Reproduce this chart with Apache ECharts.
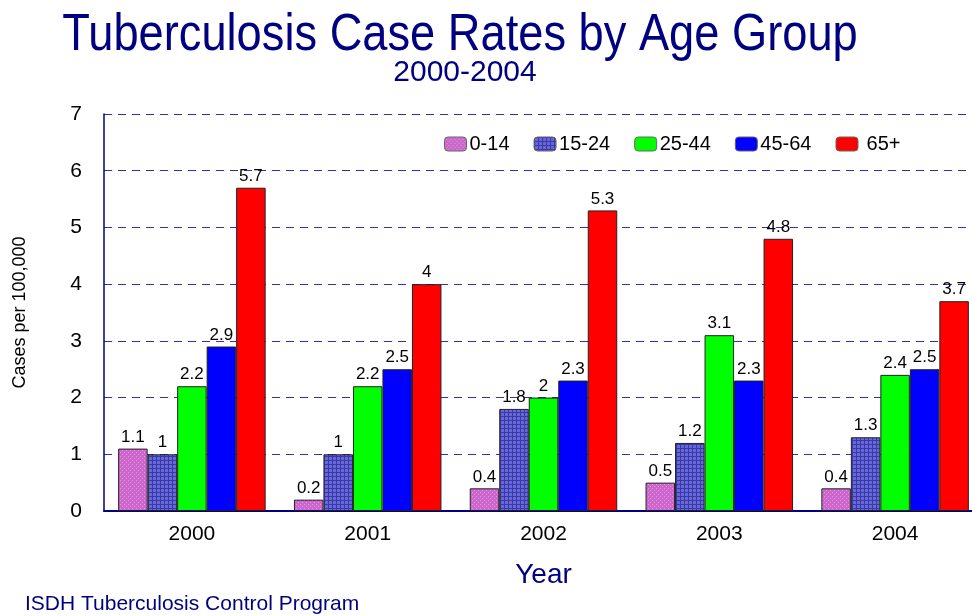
<!DOCTYPE html>
<html><head><meta charset="utf-8">
<script src="https://cdn.jsdelivr.net/npm/echarts@6/dist/echarts.min.js"></script>
<style>html,body{margin:0;padding:0;background:#fff}#c{width:972px;height:616px}</style>
</head><body><div id="c"></div>
<script>
const years = ['2000','2001','2002','2003','2004'];
const seriesNames = ['0-14','15-24','25-44','45-64','65+'];
const age0_14 = [1.1, 0.2, 0.4, 0.5, 0.4];
const age15_24 = [1.0, 1.0, 1.8, 1.2, 1.3];
const age25_44 = [2.2, 2.2, 2.0, 3.1, 2.4];
const age45_64 = [2.9, 2.5, 2.3, 2.3, 2.5];
const age65p = [5.7, 4.0, 5.3, 4.8, 3.7];
const yTicks = [0,1,2,3,4,5,6,7];

function pattern(bg, fg, kind){
  const c = document.createElement('canvas'); c.width = 4; c.height = 4;
  const g = c.getContext('2d');
  g.fillStyle = bg; g.fillRect(0,0,4,4);
  g.fillStyle = fg;
  if(kind==='dot'){ g.fillRect(0,0,1,1); g.fillRect(2,2,1,1); }
  else { g.fillRect(0,0,4,1); g.fillRect(0,0,1,4); }
  return {image: c, repeat: 'repeat'};
}
const fills = [
  pattern('#cc66cc','#e39be3','dot'),
  pattern('#6666dd','#3a3aa0','grid'),
  '#00ff00','#0000ff','#ff0000'
];
const dataSets = [age0_14, age15_24, age25_44, age45_64, age65p];
const FF = 'Liberation Sans, Arial, sans-serif';

const chart = echarts.init(document.getElementById('c'));
chart.setOption({
  animation:false,
  backgroundColor:'#fff',
  textStyle:{fontFamily:FF},
  title:[
    {text:'ISDH Tuberculosis Control Program', left:20, top:589,
     textStyle:{fontSize:21, fontWeight:'normal', color:'#000080', fontFamily:FF}}
  ],
  graphic:[
    {type:'text', x:460, y:36, scaleX:0.87, scaleY:1,
     style:{text:'Tuberculosis Case Rates by Age Group', font:'52px '+FF, fill:'#000080',
            textAlign:'center', textVerticalAlign:'middle'}},
    {type:'text', x:465, y:73,
     style:{text:'2000-2004', font:'30px '+FF, fill:'#000080',
            textAlign:'center', textVerticalAlign:'middle'}}
  ],
  legend:{
    data: seriesNames, left:439, top:129, itemWidth:22, itemHeight:14, itemGap:24,
    formatter: n => n==='65+' ? ' 65+' : n,
    textStyle:{fontSize:20, color:'#000', fontFamily:FF, padding:[0,0,0,-2]},
    itemStyle:{borderColor:'#666', borderWidth:1}
  },
  grid:{left:104, top:114, width:879, height:397, outerBoundsMode:'none', containLabel:false},
  xAxis:{
    type:'category', data: years,
    name:'Year', nameLocation:'middle', nameGap:50,
    nameTextStyle:{fontSize:28, color:'#000080', fontFamily:FF},
    axisLine:{lineStyle:{color:'#000080', width:2}},
    axisTick:{show:false},
    axisLabel:{fontSize:21, color:'#000', margin:13}
  },
  yAxis:{
    type:'value', min:0, max:7, interval:1,
    name:'Cases per 100,000', nameLocation:'middle', nameGap:75, nameRotate:90,
    nameTextStyle:{fontSize:18, color:'#000', fontFamily:FF},
    axisLine:{show:true, lineStyle:{color:'#000080', width:1.5}},
    axisTick:{show:false},
    axisLabel:{fontSize:21, color:'#000', margin:22},
    splitLine:{lineStyle:{color:'#3333aa', type:[8,6], width:1.2}}
  },
  series: seriesNames.map((n,i)=>({
    name:n, type:'bar', data:dataSets[i],
    barWidth:29.5, barGap:'0%', barCategoryGap:'15%',
    itemStyle:{color:fills[i], borderColor:'#222', borderWidth:1},
    label:{show:true, position:'top', distance:3, fontSize:17, color:'#000',
           formatter:p=>String(p.value)}
  }))
});
</script></body></html>
